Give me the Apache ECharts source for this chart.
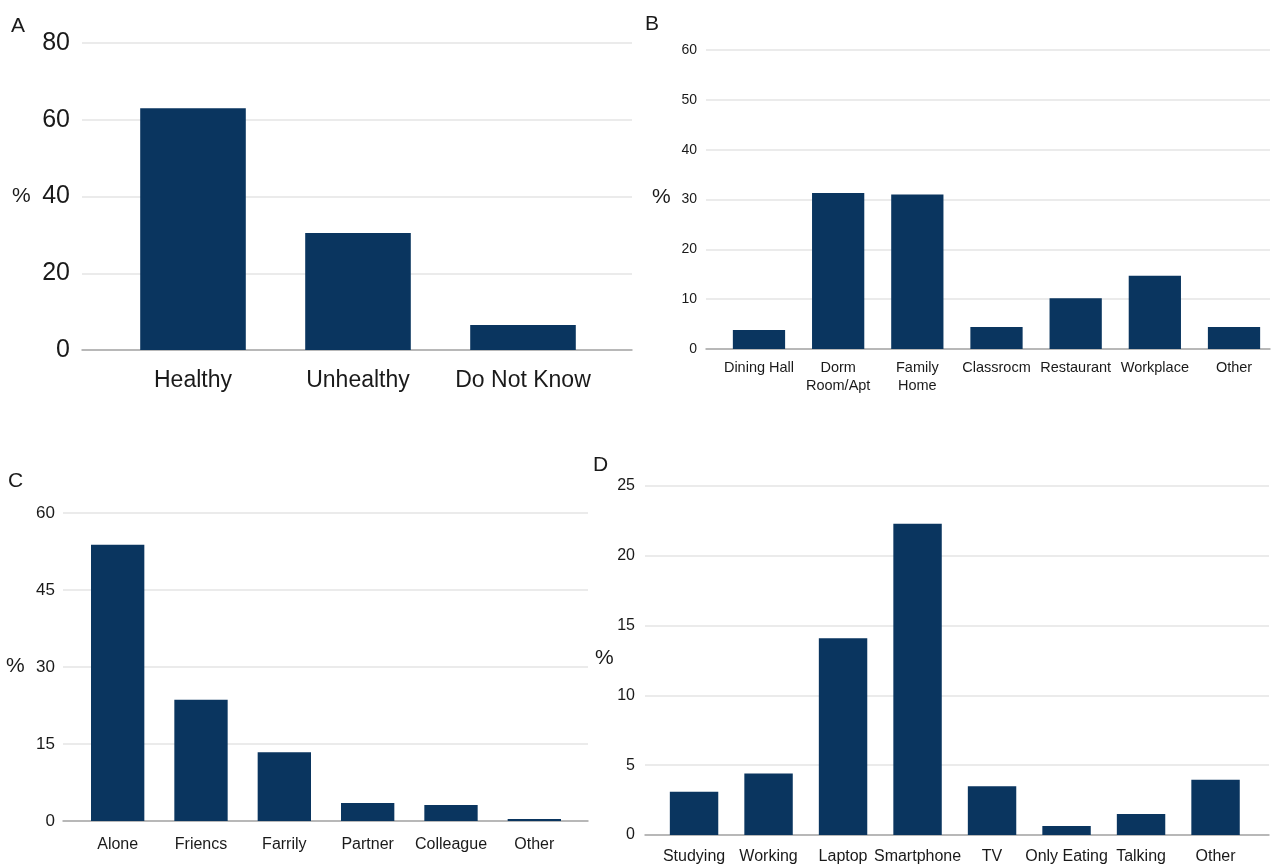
<!DOCTYPE html>
<html>
<head>
<meta charset="utf-8">
<script src="https://cdn.jsdelivr.net/npm/echarts@6/dist/echarts.min.js"></script>
<style>html,body{margin:0;padding:0;background:#fff;}#c{width:1286px;height:864px;}</style>
</head>
<body>
<div id="c"></div>
<script>
// Panel A
const catsA = ['Healthy', 'Unhealthy', 'Do Not Know'];
const valsA = [63.0, 30.5, 6.5];
const ticksA = { min: 0, max: 80, interval: 20 };
// Panel B
const catsB = ['Dining Hall', 'Dorm\nRoom/Apt', 'Family\nHome', 'Classrocm', 'Restaurant', 'Workplace', 'Other'];
const valsB = [3.8, 31.3, 31.0, 4.4, 10.2, 14.7, 4.4];
const ticksB = { min: 0, max: 60, interval: 10 };
// Panel C
const catsC = ['Alone', 'Friencs', 'Farrily', 'Partner', 'Colleague', 'Other'];
const valsC = [53.8, 23.6, 13.4, 3.5, 3.1, 0.4];
const ticksC = { min: 0, max: 60, interval: 15 };
// Panel D
const catsD = ['Studying', 'Working', 'Laptop', 'Smartphone', 'TV', 'Only Eating', 'Talking', 'Other'];
const valsD = [3.1, 4.4, 14.1, 22.3, 3.5, 0.65, 1.5, 3.95];
const ticksD = { min: 0, max: 25, interval: 5 };

const BAR = '#0a355f';
const TXT = '#1a1a1a';
const GRIDC = '#e4e4e4';
const AXISC = '#a8a8a8';

const panels = [
  { cats: catsA, vals: valsA, t: ticksA, bg: [82, 43, 550, 307], bars: [110.5, 495], font: 'Liberation Sans', ySize: 25, xSize: 23, yMargin: 12, xMargin: 16, barW: '64%' },
  { cats: catsB, vals: valsB, t: ticksB, bg: [706, 50, 564, 299], bars: [719.4, 554.2], font: 'Liberation Sans', ySize: 14, xSize: 14.5, yMargin: 9, xMargin: 10, barW: '66%' },
  { cats: catsC, vals: valsC, t: ticksC, bg: [63, 513, 525, 308], bars: [76, 500], font: 'Liberation Sans', ySize: 17, xSize: 16, yMargin: 8, xMargin: 14, barW: '64%' },
  { cats: catsD, vals: valsD, t: ticksD, bg: [645, 486, 624, 349], bars: [656.8, 596], font: 'Liberation Sans', ySize: 16, xSize: 16, yMargin: 10, xMargin: 12, barW: '65%' }
];

const grid = [], xAxis = [], yAxis = [], series = [];
panels.forEach((p, i) => {
  const [l, t, w, h] = p.bg;
  grid.push({ left: l, top: t, width: w, height: h, containLabel: false, outerBoundsMode: 'none' });
  grid.push({ left: p.bars[0], top: t, width: p.bars[1], height: h, containLabel: false, outerBoundsMode: 'none' });
  const gBg = 2 * i, gBar = 2 * i + 1;
  xAxis.push({ type: 'category', gridIndex: gBg, data: p.cats, axisLine: { show: true, lineStyle: { color: AXISC, width: 1.5 } }, axisTick: { show: false }, axisLabel: { show: false } });
  xAxis.push({ type: 'category', gridIndex: gBar, data: p.cats, axisLine: { show: false }, axisTick: { show: false },
    axisLabel: { show: true, interval: 0, color: TXT, fontFamily: p.font, fontSize: p.xSize, margin: p.xMargin, lineHeight: p.xSize * 1.25 } });
  yAxis.push({ type: 'value', gridIndex: gBg, min: p.t.min, max: p.t.max, interval: p.t.interval,
    axisLine: { show: false }, axisTick: { show: false },
    axisLabel: { color: TXT, fontFamily: p.font, fontSize: p.ySize, margin: p.yMargin },
    splitLine: { show: true, lineStyle: { color: GRIDC, width: 1.5 } } });
  yAxis.push({ type: 'value', gridIndex: gBar, min: p.t.min, max: p.t.max, interval: p.t.interval, show: false, splitLine: { show: false } });
  series.push({ type: 'bar', xAxisIndex: 2 * i + 1, yAxisIndex: 2 * i + 1, data: p.vals, barWidth: p.barW, itemStyle: { color: BAR }, z: 3, silent: true });
});

const lbl = (text, x, y, size) => ({ type: 'text', left: x, top: y, style: { text: text, fill: TXT, font: size + 'px "Liberation Sans"' } });

const chart = echarts.init(document.getElementById('c'), null, { renderer: 'canvas' });
chart.setOption({
  animation: false,
  backgroundColor: '#ffffff',
  grid, xAxis, yAxis, series,
  graphic: [
    lbl('A', 11, 16, 21), lbl('%', 12, 186, 21),
    lbl('B', 645, 14, 21), lbl('%', 652, 187, 21),
    lbl('C', 8, 471, 21), lbl('%', 6, 656, 21),
    lbl('D', 593, 455, 21), lbl('%', 595, 648, 21)
  ]
});
</script>
</body>
</html>
